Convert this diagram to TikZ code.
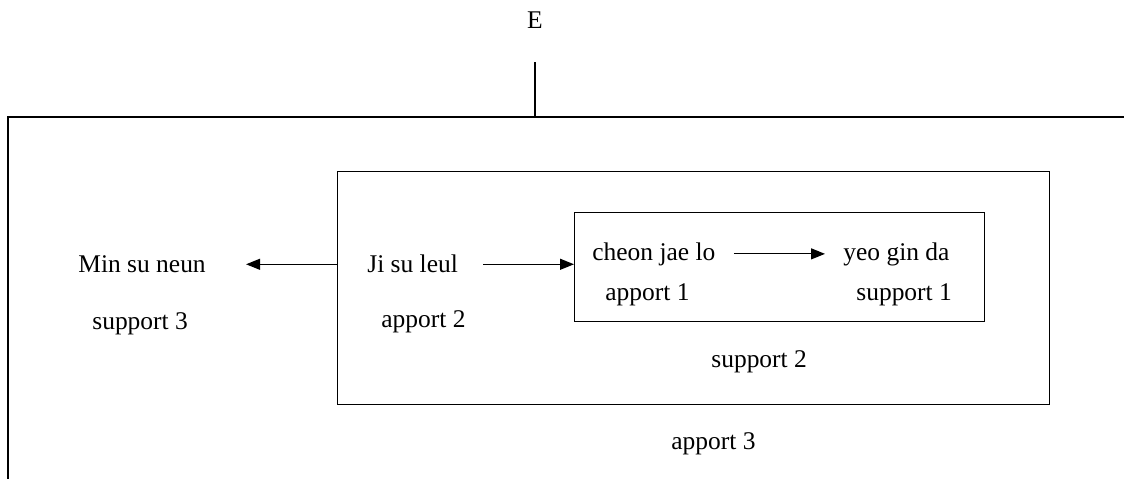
\documentclass[tikz,border=0pt]{standalone}
\usepackage{fontspec}
\setmainfont{Liberation Serif}
\usetikzlibrary{positioning, arrows.meta}

\begin{document}
\begin{tikzpicture}[x=0.02cm, y=-0.02cm,
        frame/.style={draw=black, line width=0.8pt},
        box/.style={rectangle, draw=black, line width=0.7pt, anchor=north west},
        txt/.style={font=\fontsize{14.5}{17}\selectfont, inner sep=0pt, anchor=base west},
        arr/.style={-{Triangle[length=2.8mm, width=2.2mm]}, line width=0.7pt},
        % every node/.style={draw=red}
    ]
    \useasboundingbox (0,0) rectangle (1124,479);

    % outer frame (cut off at the right and bottom)
    \node[txt, anchor=base] (E) at (535,29) {E};
    \coordinate (top) at (535,117);
    \draw[frame] (top) -- ++(0,-55);
    \draw[frame] (1124,117) -| (8,479);

    \node[box, minimum width=14.24cm, minimum height=4.66cm] (mid) at (337,171) {};
    \node[box, minimum width=8.2cm, minimum height=2.18cm] (inner) at (574,212) {};

    \node[txt] (Min) at (78,273) {Min su neun};
    \node[txt] (sup3) at (92,329) {support 3};
    \node[txt] (Ji) at (367,273) {Ji su leul};
    \node[txt] (app2) at (381,327) {apport 2};
    \node[txt] (cheon) at (592,260) {cheon jae lo};
    \node[txt] (app1) at (605,300) {apport 1};
    \node[txt] (yeo) at (843,260) {yeo gin da};
    \node[txt] (sup1) at (856,300) {support 1};
    \node[txt] (sup2) at (711,367) {support 2};
    \node[txt] (app3) at (671,449) {apport 3};

    \draw[arr, shorten >=0.8cm] (Ji.west -| mid.west) -- (Ji.west -| Min.east);
    \draw[arr, shorten <=0.5cm] (Ji.east) -- (Ji.east -| inner.west);
    \draw[arr, shorten <=0.36cm, shorten >=0.36cm] (cheon.east) -- (cheon.east -| yeo.west);
\end{tikzpicture}
\end{document}
